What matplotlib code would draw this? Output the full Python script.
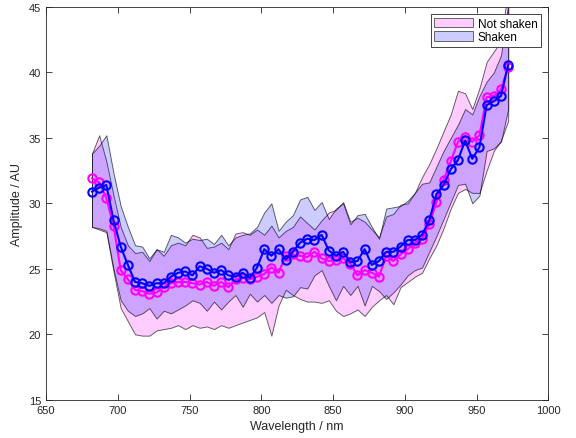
import numpy as np
import matplotlib
matplotlib.use('Agg')
import matplotlib.pyplot as plt
from matplotlib.patches import Patch

plt.rcParams['font.family'] = ['Liberation Sans', 'DejaVu Sans']

# Wavelength (nm)
wavelength = [682, 687, 692, 697, 702, 707, 712, 717, 722, 727,
              732, 737, 742, 747, 752, 757, 762, 767, 772, 777,
              782, 787, 792, 797, 802, 807, 812, 817, 822, 827,
              832, 837, 842, 847, 852, 857, 862, 867, 872, 877,
              882, 887, 892, 897, 902, 907, 912, 917, 922, 927,
              932, 937, 942, 947, 952, 957, 962, 967, 972]

# Mean amplitude
not_shaken = [31.9, 31.6, 30.4, 28.3, 24.9, 24.2, 23.4, 23.3, 23.1, 23.2,
              23.6, 23.9, 24.0, 24.0, 23.9, 23.8, 24.0, 23.7, 24.0, 23.6,
              24.2, 24.3, 24.2, 24.4, 24.6, 25.1, 24.7, 26.0, 26.1, 26.0,
              25.9, 26.3, 25.8, 25.6, 25.7, 25.8, 25.4, 24.5, 24.9, 24.7,
              24.4, 26.0, 25.6, 26.1, 26.5, 27.0, 27.3, 28.4, 30.1, 31.8,
              33.2, 34.7, 35.1, 34.7, 35.2, 38.1, 38.2, 38.7, 40.4]
shaken = [30.9, 31.2, 31.4, 28.7, 26.7, 25.3, 24.0, 23.9, 23.7, 23.9,
          23.9, 24.4, 24.7, 24.8, 24.5, 25.2, 25.0, 24.7, 24.9, 24.5,
          24.4, 24.7, 24.3, 25.1, 26.5, 26.0, 26.5, 25.7, 26.3, 27.0,
          27.3, 27.2, 27.6, 26.4, 26.0, 26.3, 25.5, 25.6, 26.5, 25.3,
          25.6, 26.3, 26.3, 26.7, 27.2, 27.2, 27.6, 28.7, 30.7, 31.4,
          32.6, 33.3, 34.8, 33.4, 34.3, 37.5, 37.8, 38.2, 40.6]

# Spread (upper / lower edges of shaded bands)
not_shaken_hi = [33.8, 35.2, 33.2, 30.6, 28.2, 26.8, 26.2, 26.3, 25.6, 26.5,
                 26.0, 26.8, 27.0, 26.8, 27.6, 27.4, 26.6, 26.7, 27.0, 26.5,
                 27.7, 27.8, 27.6, 28.0, 27.6, 28.3, 27.4, 27.9, 28.2, 29.0,
                 28.5, 28.0, 28.7, 29.3, 29.5, 30.1, 28.6, 28.9, 28.6, 28.0,
                 27.4, 29.0, 29.2, 29.9, 30.0, 30.8, 32.0, 33.0, 34.2, 35.5,
                 36.8, 38.6, 38.4, 37.2, 38.8, 40.8, 41.6, 42.4, 46.5]
not_shaken_lo = [28.2, 28.0, 27.8, 24.8, 22.0, 21.0, 20.0, 19.9, 19.9, 20.3,
                 20.4, 20.5, 20.7, 20.4, 20.7, 20.5, 20.6, 20.4, 20.7, 20.5,
                 20.7, 20.9, 21.1, 21.3, 21.7, 19.9, 22.2, 23.4, 23.0, 22.7,
                 22.5, 22.5, 22.4, 22.6, 21.8, 21.4, 21.6, 21.9, 21.4, 22.1,
                 22.6, 23.0, 22.3, 23.6, 24.0, 24.4, 24.7, 25.8, 26.8, 28.1,
                 29.6, 30.8, 31.1, 30.8, 30.8, 32.5, 34.0, 34.8, 36.3]
shaken_hi = [33.8, 34.4, 35.2, 32.3, 29.8, 28.2, 26.8, 26.7, 25.8, 26.5,
             26.3, 27.6, 27.4, 27.0, 27.3, 27.2, 27.3, 26.9, 27.6, 26.8,
             27.4, 27.6, 27.7, 28.2, 29.3, 30.0, 27.9, 28.6, 29.1, 30.3,
             30.5, 29.5, 30.1, 28.8, 29.6, 30.0, 28.4, 29.1, 29.2, 28.2,
             27.3, 29.6, 29.7, 29.8, 30.2, 30.8, 31.5, 31.6, 32.8, 34.0,
             35.0, 36.0, 37.2, 36.8, 38.2, 39.3, 40.0, 41.3, 45.2]
shaken_lo = [28.2, 28.1, 27.9, 25.0, 22.6, 21.8, 21.4, 21.6, 22.0, 21.2,
             21.8, 21.6, 21.9, 22.2, 22.6, 22.4, 21.8, 22.5, 21.9, 22.5,
             23.0, 22.1, 23.1, 22.5, 23.0, 22.4, 23.0, 22.8, 22.9, 23.6,
             23.5, 24.5, 24.9, 23.7, 22.6, 23.7, 23.0, 23.7, 22.2, 23.7,
             23.3, 22.7, 23.2, 23.8, 24.5, 24.9, 25.1, 26.3, 27.5, 28.8,
             30.1, 31.4, 31.5, 30.0, 30.6, 34.0, 34.2, 34.7, 37.2]

fig = plt.figure(figsize=(5.76, 4.39), dpi=100)
ax = fig.add_axes([0.080, 0.087, 0.872, 0.895])

edge = (0, 0, 0, 0.6)
ax.fill_between(wavelength, not_shaken_lo, not_shaken_hi, facecolor=(1, 0, 1, 0.2),
                edgecolor=edge, linewidth=0.7, zorder=1)
ax.fill_between(wavelength, shaken_lo, shaken_hi, facecolor=(0, 0, 1, 0.2),
                edgecolor=edge, linewidth=0.7, zorder=2)

ax.plot(wavelength, not_shaken, '-o', color='#ff00ff', lw=1.5, ms=6,
        mfc='none', mew=1.5, zorder=3)
ax.plot(wavelength, shaken, '-o', color='#0000ff', lw=1.5, ms=6,
        mfc='none', mew=1.5, zorder=4)

ax.set_xlim(650, 1000)
ax.set_ylim(15, 45)
ax.set_xticks(range(650, 1001, 50))
ax.set_yticks(range(15, 46, 5))
ax.tick_params(direction='in', top=True, right=True, labelsize=8,
               length=4, width=0.6, colors='#262626')
for s in ax.spines.values():
    s.set_color('#262626')
    s.set_linewidth(0.6)
ax.set_xlabel('Wavelength / nm', fontsize=9, color='#262626')
ax.set_ylabel('Amplitude / AU', fontsize=9, color='#262626')

handles = [Patch(facecolor=(1, 0.8, 1), edgecolor=(0.3, 0.3, 0.3), linewidth=0.6, label='Not shaken'),
           Patch(facecolor=(0.8, 0.8, 1), edgecolor=(0.3, 0.3, 0.3), linewidth=0.6, label='Shaken')]
leg = ax.legend(handles=handles, loc='upper right', fontsize=8.5, fancybox=False,
                edgecolor='#262626', framealpha=1, borderaxespad=0.6,
                handlelength=3.3, handleheight=0.9, labelspacing=0.15,
                borderpad=0.3, handletextpad=0.4)
leg.get_frame().set_linewidth(0.6)

fig.savefig('out.png', dpi=100)
